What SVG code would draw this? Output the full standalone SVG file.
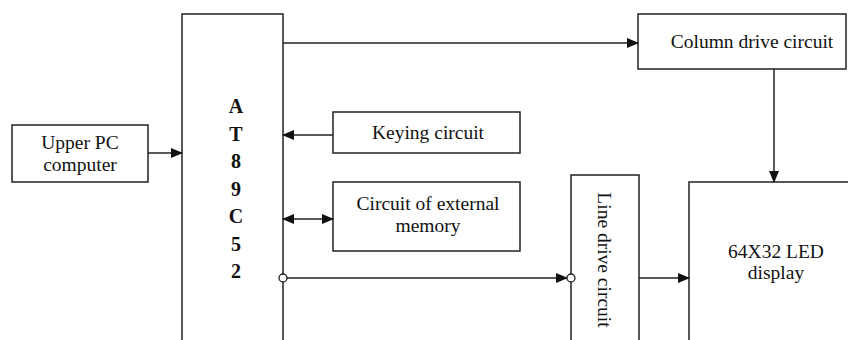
<svg xmlns="http://www.w3.org/2000/svg" width="848" height="340" viewBox="0 0 848 340">
<style>
.box{fill:#fff;stroke:#222;stroke-width:1.5}
.ln{fill:none;stroke:#222;stroke-width:1.5}
.t{font-family:"Liberation Serif","Times New Roman",serif;font-size:19.5px;fill:#111;text-anchor:middle}
.b{font-family:"Liberation Serif","Times New Roman",serif;font-size:20px;font-weight:bold;fill:#111;text-anchor:middle}
.dot{fill:#fff;stroke:#222;stroke-width:1.3}
</style>
<defs>
<marker id="ah" markerWidth="12" markerHeight="10" refX="11" refY="5" orient="auto" markerUnits="userSpaceOnUse">
<path d="M0,0 L12,5 L0,10 Z" fill="#111"/>
</marker>
<marker id="as" markerWidth="12" markerHeight="10" refX="1" refY="5" orient="auto" markerUnits="userSpaceOnUse">
<path d="M12,0 L0,5 L12,10 Z" fill="#111"/>
</marker>
</defs>
<g id="upper-pc">
<rect class="box" x="12" y="125" width="136" height="57"/>
<text class="t" x="80" y="149">Upper PC</text>
<text class="t" x="80" y="171">computer</text>
</g>
<g id="at89c52">
<path class="box" d="M182,342 V14 H283 V342"/>
<text class="b" x="236" y="113">A</text>
<text class="b" x="236" y="141">T</text>
<text class="b" x="236" y="168">8</text>
<text class="b" x="236" y="196">9</text>
<text class="b" x="236" y="223">C</text>
<text class="b" x="236" y="251">5</text>
<text class="b" x="236" y="278">2</text>
</g>
<g id="column-drive">
<rect class="box" x="638" y="14" width="208" height="55"/>
<text class="t" x="752" y="48">Column drive circuit</text>
</g>
<g id="keying">
<rect class="box" x="333" y="112" width="187" height="41"/>
<text class="t" x="428" y="139">Keying circuit</text>
</g>
<g id="ext-memory">
<rect class="box" x="333" y="182" width="187" height="69"/>
<text class="t" x="428" y="210">Circuit of external</text>
<text class="t" x="428" y="232">memory</text>
</g>
<g id="line-drive">
<path class="box" d="M571,342 V175 H639 V342"/>
<text class="t" x="598" y="260" transform="rotate(90 598 260)">Line drive circuit</text>
</g>
<g id="led-display">
<path class="box" d="M689,342 V182 H850"/>
<text class="t" x="776" y="258">64X32 LED</text>
<text class="t" x="776" y="279">display</text>
</g>
<g id="connectors">
<line class="ln" x1="148" y1="153" x2="182" y2="153" marker-end="url(#ah)"/>
<line class="ln" x1="283" y1="43" x2="638" y2="43" marker-end="url(#ah)"/>
<line class="ln" x1="333" y1="135" x2="283" y2="135" marker-end="url(#ah)"/>
<line class="ln" x1="283" y1="219" x2="333" y2="219" marker-start="url(#as)" marker-end="url(#ah)"/>
<line class="ln" x1="283" y1="278" x2="567" y2="278" marker-end="url(#ah)"/>
<line class="ln" x1="639" y1="278" x2="689" y2="278" marker-end="url(#ah)"/>
<line class="ln" x1="774" y1="69" x2="774" y2="182" marker-end="url(#ah)"/>
<circle class="dot" cx="283" cy="278" r="4"/>
<circle class="dot" cx="571" cy="278" r="4"/>
</g>
</svg>
